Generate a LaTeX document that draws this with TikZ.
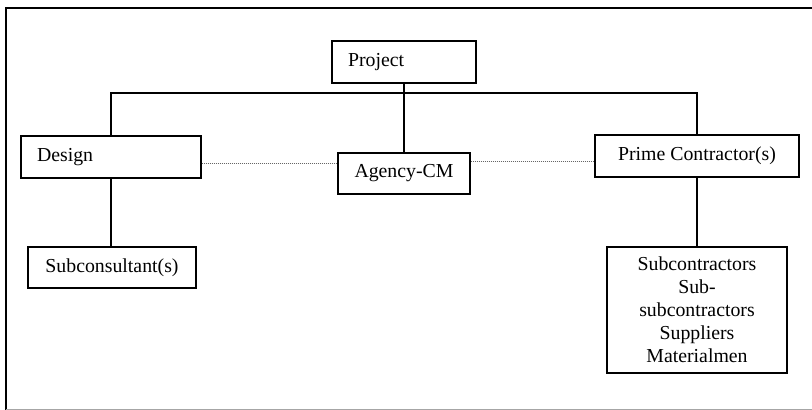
\documentclass[tikz,border=0pt]{standalone}
\usepackage{fontspec}
\setmainfont{Liberation Serif}
\usetikzlibrary{calc}
\begin{document}
\begin{tikzpicture}[x=1pt,y=-1pt,
  every node/.style={font=\fontsize{19.8}{23}\selectfont},
  orgbox/.style={draw, line width=1.2pt, inner sep=0pt, minimum height=42pt},
  leftbox/.style={orgbox, inner xsep=16pt, align=left},
  link/.style={line width=1.2pt},
  dotlink/.style={line width=0.9pt, gray!80!black, dash pattern=on 1pt off 1pt}]
  \useasboundingbox (0,0) rectangle (812,410);
  % page frame
  \draw[line width=2.8pt] (6,410) -- (6,8) -- (812,8);
  \draw[gray!70, line width=1pt] (6,409) -- (812,409);

  % boxes
  \node[leftbox, text width=112pt] (project) at (404,62) {Project};
  \node[leftbox, text width=148pt] (design) at (111,157) {Design};
  \node[orgbox, minimum width=132pt, minimum height=41pt] (agency) at (404,173.5) {Agency-CM};
  \node[orgbox, minimum width=204pt] (prime) at (697,156) {Prime Contractor(s)};
  \node[orgbox, minimum width=168pt, minimum height=41pt] (subcons) at (112,267.5) {Subconsultant(s)};
  \node[orgbox, minimum width=180pt, minimum height=126pt, align=center] (subs) at (697,310)
    {Subcontractors\\Sub-\\subcontractors\\Suppliers\\Materialmen};

  % solid reporting lines
  \coordinate (bus) at (404,93);
  \draw[link] (project.south) -- (agency.north);
  \draw[link] (design.north) |- (bus) -| (prime.north);
  \draw[link] (design.south) -- (design.south |- subcons.north);
  \draw[link] (prime.south) -- (prime.south |- subs.north);

  % dotted coordination lines, a little below the box centres
  \coordinate (d1) at ([yshift=-6pt]design.east);
  \coordinate (p1) at ([yshift=-5pt]prime.west);
  \draw[dotlink] (d1) -- (d1 -| agency.west);
  \draw[dotlink] (agency.east |- p1) -- (p1);
\end{tikzpicture}
\end{document}
